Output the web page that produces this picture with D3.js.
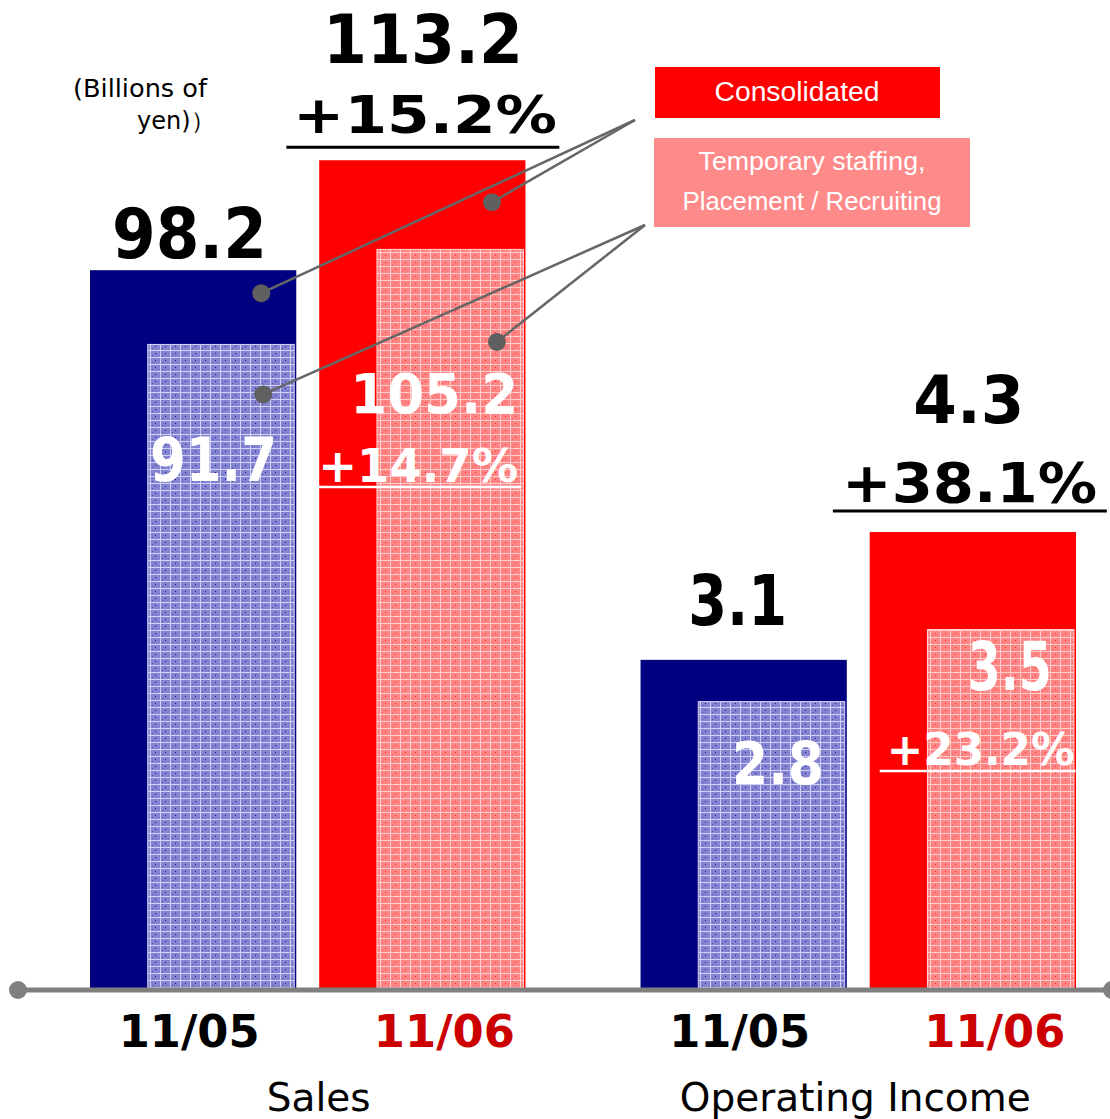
<!DOCTYPE html>
<html>
<head>
<meta charset="utf-8">
<script src="https://cdn.jsdelivr.net/npm/d3@7"></script>
<style>
  html, body { margin: 0; padding: 0; background: #ffffff; }
  svg { display: block; }
</style>
</head>
<body>
<svg id="chart" width="1110" height="1119"></svg>
<script>
// ---- data -------------------------------------------------------------
const groups = ['Sales', 'Operating Income'];
const periods = ['11/05', '11/06'];
const salesConsolidated = [98.2, 113.2];
const salesStaffing = [91.7, 105.2];
const incomeConsolidated = [3.1, 4.3];
const incomeStaffing = [2.8, 3.5];
const consolidatedGrowth = [15.2, 38.1];   // 11/06 vs 11/05, per group
const staffingGrowth = [14.7, 23.2];
const legendLabels = ['Consolidated', 'Temporary staffing,', 'Placement / Recruiting'];
const unitLines = ['(Billions of', 'yen)）'];

// ---- setup ------------------------------------------------------------
const baseY = 990;
const svg = d3.select('#chart');
const NUM_FONT = '"DejaVu Sans", Verdana, sans-serif';
const TXT_FONT = '"Liberation Sans", Arial, sans-serif';

const x0 = d3.scaleBand().domain(groups).range([90, 1076]).paddingInner(0.209);
const x1 = d3.scaleBand().domain(periods).range([0, x0.bandwidth()]).paddingInner(0.1);

// each group has its own value axis; the staffing segment uses a slightly compressed one
const yOuter = {
  'Sales': d3.scaleLinear().domain([0, 120]).range([baseY, baseY - 120 * 7.33]),
  'Operating Income': d3.scaleLinear().domain([0, 5]).range([baseY, baseY - 5 * 106.5])
};
const yInner = {
  'Sales': d3.scaleLinear().domain([0, 120]).range([baseY, baseY - 120 * 7.04]),
  'Operating Income': d3.scaleLinear().domain([0, 5]).range([baseY, baseY - 5 * 103])
};

const consolidated = [salesConsolidated, incomeConsolidated];
const staffing = [salesStaffing, incomeStaffing];
const bars = [];
groups.forEach((g, gi) => periods.forEach((p, pi) => {
  const bx = x0(g) + x1(p);
  const bw = x1.bandwidth();
  const outer = consolidated[gi][pi];
  const inner = staffing[gi][pi];
  bars.push({
    group: g, gi, period: p, pi, outer, inner,
    x: bx, w: bw, top: yOuter[g](outer),
    ix: bx + bw * 0.28, iw: bw * 0.71, itop: yInner[g](inner)
  });
}));

// ---- fills ------------------------------------------------------------
const defs = svg.append('defs');
function gridPattern(id, base, dot, line) {
  const p = defs.append('pattern').attr('id', id)
    .attr('patternUnits', 'userSpaceOnUse').attr('width', 10).attr('height', 7);
  p.append('rect').attr('width', 10).attr('height', 7).attr('fill', base);
  p.append('rect').attr('x', 5).attr('y', 3).attr('width', 1).attr('height', 1).attr('fill', dot);
  p.append('rect').attr('x', 2).attr('y', 5).attr('width', 1).attr('height', 1).attr('fill', dot).attr('opacity', 0.5);
  p.append('rect').attr('x', 0).attr('y', 0).attr('width', 1).attr('height', 7).attr('fill', line);
  p.append('rect').attr('x', 0).attr('y', 0).attr('width', 10).attr('height', 1).attr('fill', line);
}
gridPattern('gridBlue', '#8383d2', '#1c1c90', '#d0d0f4');
gridPattern('gridPink', '#ff8585', '#ff2a2a', '#ffcccc');

const outerColor = ['#000080', '#ff0000'];
const innerFill = ['url(#gridBlue)', 'url(#gridPink)'];
const innerEdge = ['#d8d8f8', '#ffd8d8'];

// ---- bars -------------------------------------------------------------
svg.append('g').selectAll('rect').data(bars).join('rect')
  .attr('x', d => d.x).attr('y', d => d.top)
  .attr('width', d => d.w).attr('height', d => baseY - d.top)
  .attr('fill', d => outerColor[d.pi]);

svg.append('g').selectAll('rect').data(bars).join('rect')
  .attr('x', d => d.ix).attr('y', d => d.itop)
  .attr('width', d => d.iw).attr('height', d => baseY - d.itop)
  .attr('fill', d => innerFill[d.pi])
  .attr('stroke', d => innerEdge[d.pi]).attr('stroke-width', 1);

// ---- text helper ------------------------------------------------------
function label(g, o) {
  const t = g.append('text')
    .attr('x', o.x).attr('y', o.y)
    .attr('text-anchor', o.anchor || 'middle')
    .attr('font-family', o.family || NUM_FONT)
    .attr('font-size', o.size)
    .attr('font-weight', o.weight || 'normal')
    .attr('fill', o.fill || '#000')
    .text(o.text);
  if (o.width) t.attr('textLength', o.width).attr('lengthAdjust', 'spacingAndGlyphs');
  return t;
}
const fmt = d3.format('.1f');
const pct = v => '+' + fmt(v) + '%';

// ---- legend & leader lines -------------------------------------------
const lg = svg.append('g');
lg.append('rect').attr('x', 655).attr('y', 67).attr('width', 285).attr('height', 51).attr('fill', '#ff0000');
lg.append('rect').attr('x', 654).attr('y', 138).attr('width', 316).attr('height', 89).attr('fill', '#ff8a8a');
label(lg, { text: legendLabels[0], x: 797, y: 101, size: 27, family: TXT_FONT, fill: '#fff', width: 165 });
label(lg, { text: legendLabels[1], x: 812, y: 170, size: 25, family: TXT_FONT, fill: '#fff', width: 227 });
label(lg, { text: legendLabels[2], x: 812, y: 210, size: 25, family: TXT_FONT, fill: '#fff', width: 259 });

const originA = [635, 120], originB = [645, 225];
const leaders = [
  { from: originA, bar: 0, layer: 'outer', dx: -35, dy: 23 },
  { from: originA, bar: 1, layer: 'outer', dx: -33.5, dy: 42 },
  { from: originB, bar: 0, layer: 'inner', dx: -31, dy: 50 },
  { from: originB, bar: 1, layer: 'inner', dx: -26.5, dy: 92.5 }
].map(l => {
  const b = bars[l.bar];
  const right = l.layer === 'outer' ? b.x + b.w : b.ix + b.iw;
  const top = l.layer === 'outer' ? b.top : b.itop;
  return { ...l, tx: right + l.dx, ty: top + l.dy };
});
const ll = svg.append('g');
ll.selectAll('line').data(leaders).join('line')
  .attr('x1', d => d.from[0]).attr('y1', d => d.from[1])
  .attr('x2', d => d.tx).attr('y2', d => d.ty)
  .attr('stroke', '#666').attr('stroke-width', 2.5);
ll.selectAll('circle').data(leaders).join('circle')
  .attr('cx', d => d.tx).attr('cy', d => d.ty).attr('r', 9).attr('fill', '#606060');

// ---- value labels -----------------------------------------------------
const vl = svg.append('g');
const outerLbl = [
  { dx: -3.7, dy: -12, size: 70, w: 155 },
  { dx: 0.7, dy: -97, size: 68, w: 200 },
  { dx: -6, dy: -35, size: 70, w: 99 },
  { dx: -4, dy: -109, size: 66, w: 111 }
];
const innerLbl = [
  { dx: -7.5, dy: 137, size: 60, w: 127 },
  { dx: -16, dy: 164, size: 56, w: 168 },
  { dx: 6.5, dy: 82, size: 58, w: 92 },
  { dx: 9, dy: 60, size: 68, w: 84 }
];
bars.forEach((b, i) => {
  const o = outerLbl[i], n = innerLbl[i];
  label(vl, { text: fmt(b.outer), x: b.x + b.w / 2 + o.dx, y: b.top + o.dy,
              size: o.size, weight: 'bold', fill: '#000', width: o.w });
  label(vl, { text: fmt(b.inner), x: b.ix + b.iw / 2 + n.dx, y: b.itop + n.dy,
              size: n.size, weight: 'bold', fill: '#fff', width: n.w });
});

// growth rates on the 11/06 bars, underlined
const outerGrowthLbl = [
  { dx: 2.7, dy: -27, size: 52, w: 264, uy: -13, u0: -136, u1: 137 },
  { dx: -3.3, dy: -30, size: 56, w: 255, uy: -21, u0: -140, u1: 134 }
];
const innerGrowthLbl = [
  { dx: -32, dy: 232.6, size: 46, w: 200, uy: 237.6, u0: -132, u1: 71 },
  { dx: -20, dy: 135.5, size: 45, w: 188, uy: 141.5, u0: -121, u1: 75 }
];
groups.forEach((g, gi) => {
  const b = bars.find(d => d.gi === gi && d.pi === 1);
  const cx = b.x + b.w / 2, icx = b.ix + b.iw / 2;
  const o = outerGrowthLbl[gi], n = innerGrowthLbl[gi];
  label(vl, { text: pct(consolidatedGrowth[gi]), x: cx + o.dx, y: b.top + o.dy,
              size: o.size, weight: 'bold', fill: '#000', width: o.w });
  vl.append('line').attr('x1', cx + o.u0).attr('x2', cx + o.u1)
    .attr('y1', b.top + o.uy).attr('y2', b.top + o.uy)
    .attr('stroke', '#000').attr('stroke-width', 3);
  label(vl, { text: pct(staffingGrowth[gi]), x: icx + n.dx, y: b.itop + n.dy,
              size: n.size, weight: 'bold', fill: '#fff', width: n.w });
  vl.append('line').attr('x1', icx + n.u0).attr('x2', icx + n.u1)
    .attr('y1', b.itop + n.uy).attr('y2', b.itop + n.uy)
    .attr('stroke', '#fff').attr('stroke-width', 2.5);
});

// unit note
label(svg, { text: unitLines[0], x: 73, y: 97, size: 24, anchor: 'start', width: 134 });
label(svg, { text: unitLines[1], x: 137, y: 129, size: 24, anchor: 'start' });

// ---- category axis ----------------------------------------------------
const ax = svg.append('g');
ax.append('line').attr('x1', 18).attr('x2', 1112).attr('y1', baseY).attr('y2', baseY)
  .attr('stroke', '#808080').attr('stroke-width', 5);
ax.selectAll('circle').data([18, 1112]).join('circle')
  .attr('cx', d => d).attr('cy', baseY).attr('r', 9).attr('fill', '#808080');

const tickColor = ['#000000', '#cc0000'];
const tickShift = [-4, 22];
bars.forEach(b => {
  label(ax, { text: b.period, x: b.x + b.w / 2 + tickShift[b.pi], y: 1047,
              size: 45, weight: 'bold', fill: tickColor[b.pi], width: 141 });
});
const groupShift = [11, -3];
groups.forEach((g, gi) => {
  label(ax, { text: g, x: x0(g) + x0.bandwidth() / 2 + groupShift[gi], y: 1111, size: 39 });
});
</script>
</body>
</html>
